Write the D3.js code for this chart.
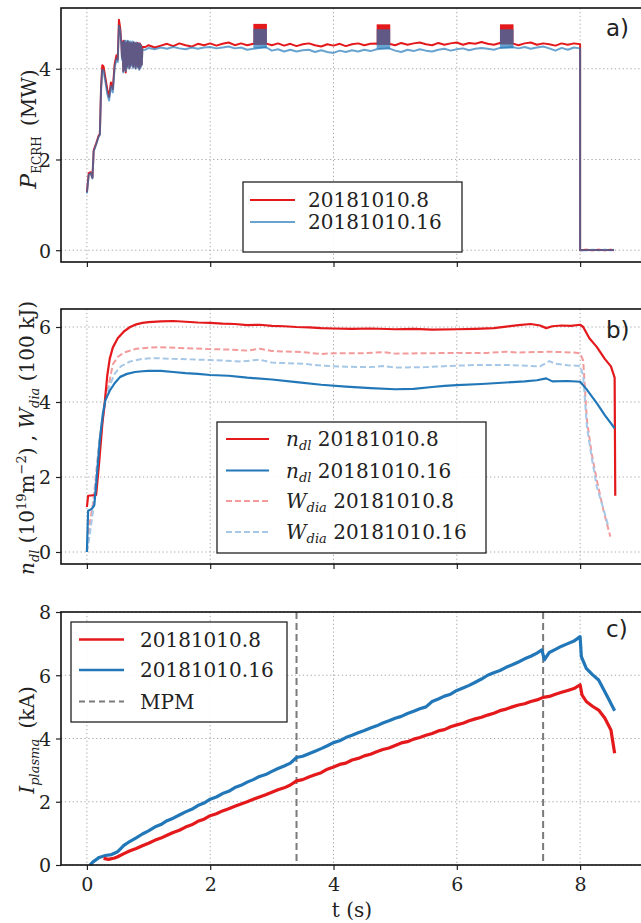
<!DOCTYPE html>
<html>
<head>
<meta charset="utf-8">
<script src="https://cdn.jsdelivr.net/npm/d3@7"></script>
<style>
  html, body { margin: 0; padding: 0; background: #fff; }
  svg { display: block; }
</style>
</head>
<body>
<div id="chart"></div>
<script>
// ---- labels and ticks -----------------------------------------------------
const shots = ["20181010.8", "20181010.16"];
const tickLabelsX = [0, 2, 4, 6, 8];
const ticksA = [0, 2, 4];
const ticksB = [0, 2, 4, 6];
const ticksC = [0, 2, 4, 6, 8];
const mpmTimes = [3.4, 7.4];

// ---- a) ECRH power (MW), [t (s), P] -----------------------------------------
const ecrh8 = [
  [0.00,1.28],[0.03,1.70],[0.06,1.72],[0.09,1.60],[0.11,2.20],[0.15,2.35],[0.19,2.52],[0.21,2.56],[0.23,3.60],[0.25,4.08],
  [0.27,4.05],[0.30,3.80],[0.33,3.55],[0.36,3.38],[0.39,3.70],[0.42,3.55],[0.45,4.10],[0.48,4.30],[0.50,4.20],[0.52,5.08],
  [0.54,4.90],[0.56,4.55],[0.57,4.25],[0.58,4.60],[0.59,3.95],[0.60,4.62],[0.61,4.00],[0.62,4.58],[0.63,3.92],[0.64,4.55],
  [0.65,4.05],[0.66,4.60],[0.67,4.10],[0.68,4.58],[0.69,4.02],[0.70,4.55],[0.71,4.08],[0.72,4.57],[0.73,4.12],[0.74,4.55],
  [0.75,4.05],[0.76,4.58],[0.77,4.10],[0.78,4.56],[0.79,4.02],[0.80,4.55],[0.81,4.08],[0.82,4.57],[0.83,4.05],[0.84,4.55],
  [0.85,4.00],[0.86,4.56],[0.87,4.05],[0.88,4.52],[0.89,4.10],[0.90,4.48],
  [0.95,4.48],[1.0,4.52],[1.1,4.47],[1.2,4.51],[1.3,4.55],[1.4,4.50],[1.5,4.56],[1.6,4.52],[1.7,4.49],[1.8,4.55],[1.9,4.52],
  [2.0,4.56],[2.1,4.51],[2.2,4.55],[2.3,4.58],[2.4,4.52],[2.5,4.56],[2.6,4.52],[2.7,4.55],[2.9,4.56],[3.0,4.52],[3.1,4.56],
  [3.2,4.51],[3.3,4.55],[3.4,4.50],[3.5,4.54],[3.6,4.56],[3.7,4.52],[3.8,4.49],[3.9,4.54],[4.0,4.51],[4.1,4.55],[4.2,4.50],
  [4.3,4.54],[4.4,4.56],[4.5,4.52],[4.6,4.55],[4.7,4.56],[4.9,4.55],[5.0,4.52],[5.1,4.57],[5.2,4.53],[5.3,4.56],[5.4,4.58],
  [5.5,4.54],[5.6,4.52],[5.7,4.57],[5.8,4.53],[5.9,4.56],[6.0,4.58],[6.1,4.53],[6.2,4.57],[6.3,4.55],[6.4,4.59],[6.5,4.55],
  [6.6,4.53],[6.7,4.57],[6.9,4.56],[7.0,4.52],[7.1,4.56],[7.2,4.58],[7.3,4.53],[7.4,4.56],[7.5,4.54],[7.6,4.51],[7.7,4.56],
  [7.8,4.53],[7.9,4.56],[8.0,4.54],[8.0,0.00],[8.1,0.01],[8.2,0.00],[8.3,0.01],[8.4,0.00],[8.5,0.01],[8.55,0.00]
];
const ecrh16 = [
  [0.00,1.25],[0.03,1.66],[0.06,1.70],[0.09,1.58],[0.11,2.18],[0.15,2.33],[0.19,2.50],[0.21,2.54],[0.23,3.55],[0.25,3.98],
  [0.27,3.96],[0.30,3.72],[0.33,3.45],[0.36,3.30],[0.39,3.62],[0.42,3.48],[0.45,4.02],[0.48,4.22],[0.50,4.15],[0.52,4.95],
  [0.54,4.85],[0.56,4.50],[0.57,4.20],[0.58,4.58],[0.59,3.92],[0.60,4.60],[0.61,3.98],[0.62,4.62],[0.63,3.95],[0.64,4.60],
  [0.65,4.02],[0.66,4.62],[0.67,4.05],[0.68,4.60],[0.69,4.00],[0.70,4.60],[0.71,4.05],[0.72,4.58],[0.73,4.08],[0.74,4.60],
  [0.75,4.02],[0.76,4.58],[0.77,4.06],[0.78,4.57],[0.79,4.00],[0.80,4.58],[0.81,4.05],[0.82,4.55],[0.83,4.02],[0.84,4.56],
  [0.85,3.98],[0.86,4.55],[0.87,4.02],[0.88,4.50],[0.89,4.08],[0.90,4.42],
  [0.95,4.42],[1.0,4.46],[1.1,4.43],[1.2,4.47],[1.3,4.44],[1.4,4.48],[1.5,4.45],[1.6,4.43],[1.7,4.47],[1.8,4.44],[1.9,4.47],
  [2.0,4.48],[2.1,4.45],[2.2,4.47],[2.3,4.49],[2.4,4.45],[2.5,4.47],[2.6,4.42],[2.7,4.44],[2.9,4.48],[3.0,4.40],[3.1,4.43],
  [3.2,4.38],[3.3,4.42],[3.4,4.38],[3.5,4.41],[3.6,4.42],[3.7,4.37],[3.8,4.41],[3.9,4.37],[4.0,4.35],[4.1,4.40],[4.2,4.37],
  [4.3,4.41],[4.4,4.38],[4.5,4.42],[4.6,4.39],[4.7,4.43],[4.9,4.45],[5.0,4.40],[5.1,4.37],[5.2,4.42],[5.3,4.39],[5.4,4.43],
  [5.5,4.40],[5.6,4.38],[5.7,4.42],[5.8,4.44],[5.9,4.40],[6.0,4.43],[6.1,4.45],[6.2,4.41],[6.3,4.44],[6.4,4.46],[6.5,4.44],
  [6.6,4.42],[6.7,4.46],[6.9,4.48],[7.0,4.45],[7.1,4.48],[7.2,4.44],[7.3,4.47],[7.4,4.49],[7.5,4.45],[7.6,4.40],[7.7,4.46],
  [7.8,4.42],[7.9,4.47],[8.0,4.45],[8.0,0.00],[8.1,0.00],[8.2,0.01],[8.3,0.00],[8.4,0.01],[8.5,0.00],[8.55,0.01]
];
// power-modulation windows: [t start, t end, low, high]
const modWindows8 = [[2.70, 2.92, 4.53, 4.99], [4.70, 4.92, 4.53, 4.98], [6.70, 6.92, 4.54, 4.98]];
const modWindows16 = [[2.70, 2.92, 4.45, 4.88], [4.70, 4.92, 4.44, 4.87], [6.70, 6.92, 4.45, 4.87]];

// ---- b) line-integrated density and diamagnetic energy ----------------------
const ndl8 = [
  [0.00,1.20],[0.02,1.50],[0.15,1.52],[0.20,2.40],[0.25,3.40],[0.29,4.00],[0.33,4.70],[0.37,5.15],[0.42,5.45],[0.50,5.70],
  [0.60,5.88],[0.70,6.00],[0.80,6.07],[0.90,6.11],[1.0,6.13],[1.2,6.15],[1.4,6.16],[1.6,6.14],[1.8,6.12],[2.0,6.11],[2.2,6.09],
  [2.4,6.08],[2.6,6.05],[2.8,6.06],[3.0,6.03],[3.2,6.02],[3.4,6.00],[3.6,5.99],[3.8,5.97],[4.0,5.96],[4.3,5.95],[4.6,5.96],
  [5.0,5.94],[5.3,5.95],[5.6,5.93],[6.0,5.94],[6.3,5.95],[6.6,5.97],[6.8,6.01],[7.0,6.05],[7.2,6.08],[7.35,6.04],[7.45,5.97],
  [7.55,6.02],[7.7,6.04],[7.85,6.03],[8.0,6.06],[8.05,6.00],[8.15,5.70],[8.27,5.47],[8.40,5.15],[8.50,4.95],[8.56,4.65],[8.57,1.50]
];
const ndl16 = [
  [0.00,0.00],[0.02,1.10],[0.08,1.15],[0.12,1.25],[0.16,2.00],[0.21,3.00],[0.26,3.70],[0.30,4.05],[0.37,4.30],[0.45,4.50],
  [0.54,4.67],[0.65,4.75],[0.78,4.80],[0.9,4.82],[1.0,4.83],[1.2,4.83],[1.4,4.80],[1.6,4.77],[1.8,4.75],[2.0,4.72],[2.3,4.70],
  [2.6,4.65],[3.0,4.60],[3.4,4.53],[3.8,4.46],[4.2,4.41],[4.6,4.37],[5.0,4.34],[5.3,4.35],[5.6,4.40],[5.8,4.43],[6.0,4.45],
  [6.4,4.48],[6.8,4.52],[7.1,4.55],[7.3,4.58],[7.45,4.63],[7.55,4.55],[7.8,4.56],[8.0,4.54],[8.1,4.35],[8.27,3.97],[8.40,3.65],[8.56,3.30]
];
const wdia8 = [
  [0.00,0.00],[0.05,0.80],[0.10,1.30],[0.15,2.10],[0.20,2.90],[0.25,3.50],[0.30,4.00],[0.36,4.50],[0.42,5.00],[0.50,5.20],
  [0.60,5.32],[0.80,5.42],[1.0,5.45],[1.2,5.46],[1.5,5.44],[2.0,5.41],[2.3,5.40],[2.6,5.37],[2.8,5.42],[3.0,5.36],[3.5,5.33],
  [3.8,5.28],[4.0,5.30],[4.5,5.30],[4.8,5.33],[5.0,5.29],[5.5,5.30],[6.0,5.31],[6.5,5.31],[6.8,5.34],[7.0,5.32],[7.5,5.34],
  [7.9,5.32],[8.0,5.30],[8.05,5.10],[8.11,3.52],[8.19,2.60],[8.27,1.92],[8.38,1.10],[8.49,0.41]
];
const wdia16 = [
  [0.00,0.00],[0.05,0.50],[0.10,1.10],[0.15,2.00],[0.20,2.90],[0.25,3.50],[0.30,4.00],[0.36,4.40],[0.45,4.75],[0.55,4.95],
  [0.70,5.08],[0.90,5.15],[1.1,5.17],[1.4,5.15],[2.0,5.12],[2.5,5.08],[2.8,5.13],[3.0,5.05],[3.5,5.02],[3.8,4.97],[4.2,4.94],
  [4.6,4.93],[4.8,4.96],[5.0,4.92],[5.5,4.93],[6.0,4.97],[6.4,4.99],[6.8,4.99],[7.2,4.96],[7.35,4.95],[7.5,5.09],[7.6,5.02],
  [7.8,4.98],[8.0,4.96],[8.05,4.70],[8.11,3.34],[8.19,2.50],[8.27,1.74],[8.37,1.20],[8.46,0.67]
];

// ---- c) plasma current (kA) -------------------------------------------------
const ip8 = [
  [0.27,0.21],[0.35,0.18],[0.45,0.22],[0.50,0.26],[0.60,0.36],[0.70,0.45],[0.80,0.52],[0.90,0.61],[1.0,0.69],[1.1,0.78],
  [1.2,0.85],[1.3,0.94],[1.4,1.03],[1.5,1.10],[1.6,1.20],[1.7,1.27],[1.8,1.38],[1.9,1.45],[2.0,1.56],[2.1,1.62],[2.2,1.71],
  [2.3,1.78],[2.4,1.86],[2.5,1.93],[2.6,2.00],[2.7,2.08],[2.8,2.15],[2.9,2.22],[3.0,2.30],[3.1,2.38],[3.2,2.44],[3.3,2.53],
  [3.4,2.66],[3.5,2.70],[3.6,2.78],[3.7,2.85],[3.8,2.92],[3.9,3.03],[4.0,3.10],[4.1,3.18],[4.2,3.22],[4.3,3.32],[4.4,3.37],
  [4.5,3.45],[4.6,3.50],[4.7,3.58],[4.8,3.65],[4.9,3.70],[5.0,3.78],[5.1,3.86],[5.2,3.90],[5.3,3.98],[5.4,4.03],[5.5,4.10],
  [5.6,4.16],[5.7,4.24],[5.8,4.28],[5.9,4.37],[6.0,4.43],[6.1,4.48],[6.2,4.56],[6.3,4.62],[6.4,4.67],[6.5,4.74],[6.6,4.80],
  [6.7,4.88],[6.8,4.93],[6.9,5.00],[7.0,5.06],[7.1,5.10],[7.2,5.17],[7.3,5.22],[7.4,5.30],[7.5,5.33],[7.6,5.40],[7.7,5.46],
  [7.8,5.52],[7.9,5.58],[8.0,5.70],[8.03,5.38],[8.1,5.17],[8.2,5.02],[8.3,4.90],[8.4,4.65],[8.5,4.27],[8.56,3.53]
];
const ip16 = [
  [0.05,0.00],[0.10,0.10],[0.20,0.24],[0.30,0.30],[0.40,0.33],[0.50,0.42],[0.60,0.62],[0.70,0.75],[0.80,0.86],[0.90,0.98],
  [1.0,1.08],[1.1,1.20],[1.2,1.28],[1.3,1.40],[1.4,1.48],[1.5,1.58],[1.6,1.68],[1.7,1.76],[1.8,1.88],[1.9,1.96],[2.0,2.08],
  [2.1,2.15],[2.2,2.26],[2.3,2.33],[2.4,2.45],[2.5,2.52],[2.6,2.62],[2.7,2.70],[2.8,2.80],[2.9,2.86],[3.0,2.96],[3.1,3.05],
  [3.2,3.13],[3.3,3.22],[3.4,3.40],[3.5,3.44],[3.6,3.52],[3.7,3.60],[3.8,3.68],[3.9,3.77],[4.0,3.87],[4.1,3.93],[4.2,4.03],
  [4.3,4.10],[4.4,4.18],[4.5,4.25],[4.6,4.33],[4.7,4.40],[4.8,4.49],[4.9,4.56],[5.0,4.64],[5.1,4.70],[5.2,4.79],[5.3,4.86],
  [5.4,4.94],[5.5,5.00],[5.6,5.17],[5.7,5.25],[5.8,5.34],[5.9,5.40],[6.0,5.52],[6.1,5.60],[6.2,5.68],[6.3,5.78],[6.4,5.88],
  [6.5,6.00],[6.6,6.08],[6.7,6.15],[6.8,6.25],[6.9,6.33],[7.0,6.42],[7.1,6.52],[7.2,6.60],[7.3,6.70],[7.38,6.80],[7.42,6.49],
  [7.5,6.72],[7.6,6.82],[7.7,6.92],[7.8,7.00],[7.9,7.08],[8.0,7.22],[8.02,6.59],[8.1,6.22],[8.2,6.02],[8.3,5.85],[8.45,5.30],[8.56,4.88]
];

// ---- layout -----------------------------------------------------------------
const W = 641, H = 923;
const left = 61, right = 643;
const panels = [
  { top: 8,   bottom: 262, domain: [-0.26, 5.34], ticks: ticksA },
  { top: 309, bottom: 564, domain: [-0.32, 6.48], ticks: ticksB },
  { top: 612, bottom: 865, domain: [0, 8],        ticks: ticksC }
];
const RED = "#e3191c";
const BLUE = "#2277b8";
const RED_LIGHT = "#f39a9b";
const BLUE_LIGHT = "#a6c8e6";
const GREY = "#7a7a7a";
const SERIF = "'DejaVu Serif', serif";
const SANS = "'DejaVu Sans', sans-serif";

const svg = d3.select("#chart").append("svg").attr("width", W).attr("height", H);

const x = d3.scaleLinear().domain([-0.42, 9.02]).range([left, right]);
panels.forEach(p => { p.y = d3.scaleLinear().domain(p.domain).range([p.bottom, p.top]); });

// grid, axes and frame of each panel
panels.forEach((p, i) => {
  const g = svg.append("g");
  g.selectAll("line.gx").data(tickLabelsX).join("line")
    .attr("x1", d => x(d)).attr("x2", d => x(d)).attr("y1", p.top).attr("y2", p.bottom)
    .attr("stroke", "#a8a8a8").attr("stroke-width", 1).attr("stroke-dasharray", "1.3,2.6");
  g.selectAll("line.gy").data(p.ticks).join("line")
    .attr("x1", left).attr("x2", right).attr("y1", d => p.y(d)).attr("y2", d => p.y(d))
    .attr("stroke", "#a8a8a8").attr("stroke-width", 1).attr("stroke-dasharray", "1.3,2.6");

  const ya = svg.append("g").attr("transform", `translate(${left},0)`)
    .call(d3.axisLeft(p.y).tickValues(p.ticks).tickSize(5).tickPadding(5).tickFormat(d3.format("d")));
  ya.select(".domain").remove();
  ya.selectAll(".tick line").attr("stroke", "#222").attr("stroke-width", 1.2);
  ya.selectAll(".tick text").style("font-family", SERIF).style("font-size", "19px")
    .attr("fill", "#222").attr("dy", "0.36em");

  const xa = svg.append("g").attr("transform", `translate(0,${p.bottom})`)
    .call(d3.axisBottom(x).tickValues(tickLabelsX).tickSize(5).tickPadding(8)
      .tickFormat(i === 2 ? d3.format("d") : () => ""));
  xa.select(".domain").remove();
  xa.selectAll(".tick line").attr("stroke", "#222").attr("stroke-width", 1.2);
  xa.selectAll(".tick text").style("font-family", SERIF).style("font-size", "19px").attr("fill", "#222");

  p.g = svg.append("g");
  svg.append("rect").attr("x", left).attr("y", p.top)
    .attr("width", right - left).attr("height", p.bottom - p.top)
    .attr("fill", "none").attr("stroke", "#111").attr("stroke-width", 1.6);
});

const pathOf = (series, yScale) => d3.line().x(d => x(d[0])).y(d => yScale(d[1]))(series);
function trace(g, series, yScale, color, width, extra) {
  const path = g.append("path").attr("d", pathOf(series, yScale))
    .attr("fill", "none").attr("stroke", color).attr("stroke-width", width)
    .attr("stroke-linejoin", "round");
  if (extra) extra(path);
  return path;
}

// ---- panel a ------------------------------------------------------------------
const pa = panels[0];
trace(pa.g, ecrh8, pa.y, RED, 2);
pa.g.selectAll("rect.m8").data(modWindows8).join("rect")
  .attr("x", d => x(d[0])).attr("width", d => x(d[1]) - x(d[0]))
  .attr("y", d => pa.y(d[3])).attr("height", d => pa.y(d[2]) - pa.y(d[3]))
  .attr("fill", RED);
trace(pa.g, ecrh16, pa.y, BLUE, 2, p => p.attr("stroke-opacity", 0.68));
pa.g.selectAll("rect.m16").data(modWindows16).join("rect")
  .attr("x", d => x(d[0])).attr("width", d => x(d[1]) - x(d[0]))
  .attr("y", d => pa.y(d[3])).attr("height", d => pa.y(d[2]) - pa.y(d[3]))
  .attr("fill", BLUE).attr("fill-opacity", 0.68);

// ---- panel b ------------------------------------------------------------------
const pb = panels[1];
trace(pb.g, wdia8, pb.y, RED_LIGHT, 2, p => p.attr("stroke-dasharray", "6,3"));
trace(pb.g, wdia16, pb.y, BLUE_LIGHT, 2, p => p.attr("stroke-dasharray", "6,3"));
trace(pb.g, ndl8, pb.y, RED, 2.2);
trace(pb.g, ndl16, pb.y, BLUE, 2.2);

// ---- panel c ------------------------------------------------------------------
const pc = panels[2];
pc.g.selectAll("line.mpm").data(mpmTimes).join("line")
  .attr("x1", d => x(d)).attr("x2", d => x(d)).attr("y1", pc.top).attr("y2", pc.bottom)
  .attr("stroke", GREY).attr("stroke-width", 2).attr("stroke-dasharray", "7,4");
trace(pc.g, ip16, pc.y, BLUE, 3.2);
trace(pc.g, ip8, pc.y, RED, 3.2);

// ---- legends ------------------------------------------------------------------
function legend(box, entries) {
  const g = svg.append("g");
  g.append("rect").attr("x", box.x).attr("y", box.y).attr("width", box.w).attr("height", box.h)
    .attr("fill", "#fff").attr("fill-opacity", 0.9).attr("stroke", "#222").attr("stroke-width", 1.3);
  entries.forEach(e => {
    g.append("line").attr("x1", box.lx0).attr("x2", box.lx1).attr("y1", e.y).attr("y2", e.y)
      .attr("stroke", e.color).attr("stroke-width", e.width || 2)
      .attr("stroke-opacity", e.opacity || 1)
      .attr("stroke-dasharray", e.dash || null);
    const t = g.append("text").attr("x", box.tx).attr("y", e.y + 7)
      .style("font-family", SERIF).style("font-size", "20px").attr("fill", "#222");
    if (e.sym) {
      t.append("tspan").style("font-style", "italic").text(e.sym);
      t.append("tspan").style("font-style", "italic").style("font-size", "13px").attr("dy", 4).text(e.sub);
      t.append("tspan").attr("dy", -4).text(" " + e.label);
    } else {
      t.text(e.label);
    }
  });
}
legend({ x: 243, y: 182, w: 219, h: 70, lx0: 250, lx1: 295, tx: 308 }, [
  { y: 200, color: RED, label: shots[0] },
  { y: 222, color: BLUE, opacity: 0.68, label: shots[1] }
]);
legend({ x: 217, y: 422, w: 269, h: 131, lx0: 226, lx1: 269, tx: 286 }, [
  { y: 439, color: RED, width: 2.2, sym: "n", sub: "dl", label: shots[0] },
  { y: 470.5, color: BLUE, width: 2.2, sym: "n", sub: "dl", label: shots[1] },
  { y: 501, color: RED_LIGHT, dash: "6,3", sym: "W", sub: "dia", label: shots[0] },
  { y: 532, color: BLUE_LIGHT, dash: "6,3", sym: "W", sub: "dia", label: shots[1] }
]);
legend({ x: 71, y: 622, w: 216, h: 100, lx0: 79, lx1: 124, tx: 140 }, [
  { y: 639.5, color: RED, width: 2.6, label: shots[0] },
  { y: 670, color: BLUE, width: 2.6, label: shots[1] },
  { y: 701.5, color: GREY, dash: "6,4", label: "MPM" }
]);

// ---- panel tags ---------------------------------------------------------------
[["a)", 36], ["b)", 338], ["c)", 637]].forEach(([s, yy]) => {
  svg.append("text").attr("x", 606).attr("y", yy)
    .style("font-family", SANS).style("font-size", "23px").attr("fill", "#222").text(s);
});

// ---- axis titles --------------------------------------------------------------
function yTitle(cx, cy, build) {
  const t = svg.append("text").attr("transform", `translate(${cx},${cy}) rotate(-90)`)
    .attr("text-anchor", "middle").style("font-family", SERIF).style("font-size", "20px").attr("fill", "#222");
  build(t);
}
yTitle(36, 129, t => {
  t.append("tspan").style("font-style", "italic").style("font-size", "22px").text("P");
  t.append("tspan").style("font-size", "12px").attr("dy", 5).text("ECRH");
  t.append("tspan").attr("dy", -5).text("\u2009 (MW)");
});
yTitle(34, 438, t => {
  t.append("tspan").style("font-style", "italic").text("n");
  t.append("tspan").style("font-style", "italic").style("font-size", "13px").attr("dy", 5).text("dl");
  t.append("tspan").attr("dy", -5).text(" (10");
  t.append("tspan").style("font-size", "13px").attr("dy", -8).text("19");
  t.append("tspan").attr("dy", 8).text("m");
  t.append("tspan").style("font-size", "13px").attr("dy", -8).text("\u22122");
  t.append("tspan").attr("dy", 8).text(") , ");
  t.append("tspan").style("font-style", "italic").text("W");
  t.append("tspan").style("font-style", "italic").style("font-size", "13px").attr("dy", 5).text("dia");
  t.append("tspan").attr("dy", -5).text(" (100 kJ)");
});
yTitle(34, 740, t => {
  t.append("tspan").style("font-style", "italic").text("I");
  t.append("tspan").style("font-style", "italic").style("font-size", "13px").attr("dy", 5).text("plasma");
  t.append("tspan").attr("dy", -5).text("\u2009 (kA)");
});
svg.append("text").attr("x", 352).attr("y", 917).attr("text-anchor", "middle")
  .style("font-family", SERIF).style("font-size", "20px").attr("fill", "#222").text("t (s)");
</script>
</body>
</html>
